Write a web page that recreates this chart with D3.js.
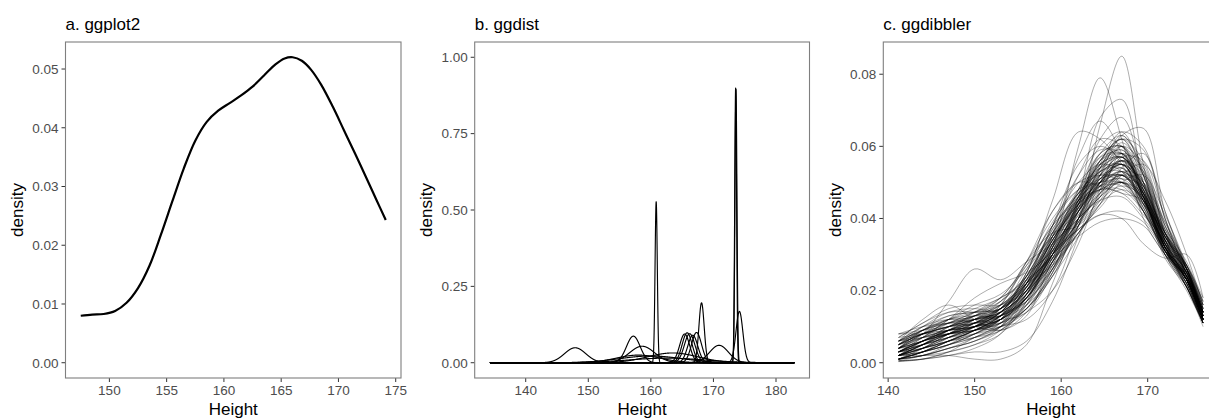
<!DOCTYPE html>
<html><head><meta charset="utf-8">
<script src="https://cdn.jsdelivr.net/npm/d3@7"></script>
<style>
body{margin:0;background:#fff}
svg{display:block}
text{font-family:"Liberation Sans",Arial,Helvetica,sans-serif}
</style>
</head><body>
<svg id="chart" width="1209" height="419"></svg>
<script>
// ---------------- data ----------------
const panelTitles = ["a. ggplot2", "b. ggdist", "c. ggdibbler"];
const xAxisTitle = "Height";
const yAxisTitle = "density";

// a. single kernel density estimate
const heightA  = [147.5,148.5,149.5,150.5,151.5,152.5,153.5,154.5,155.5,156.5,157.5,158.5,159.5,160.5,161.5,162.5,163.5,164.5,165.3,166.0,166.8,167.6,168.5,169.5,170.5,171.5,172.5,173.3,174.13];
const densityA = [.0080,.0082,.0083,.0088,.0102,.0127,.0165,.0218,.0275,.0331,.0378,.0410,.0429,.0442,.0455,.0470,.0489,.0508,.0518,.0520,.0514,.0499,.0473,.0436,.0395,.0354,.0312,.0278,.0243];

// b. one normal distribution per observation (location, spread, drawn peak height)
const distMean = [147.9,157.2,158.6,160.85,173.55,173.6,174.15,168.1,170.9,165.4,165.8,166.2,166.7,167.3,163.5,160.0,158.0,162.5];
const distSd   = [1.7,1.1,2.0,0.18,0.15,0.16,0.55,0.42,1.5,0.8,0.8,0.85,0.8,0.8,4.0,5.0,3.5,6.0];
const distPeak = [0.049,0.087,0.054,0.527,0.899,0.895,0.168,0.196,0.057,0.094,0.098,0.095,0.090,0.099,0.032,0.022,0.025,0.015];
const distRange = [134.28, 182.92];

// c. density estimates of resampled data (values at the grid heights)
const heightGridC = [141.2,144,147,150,153,156,159,162,164.5,167,169.5,172,174.5,176.4];
const densityDrawsC = [
[.002,.003,.005,.007,.010,.015,.024,.040,.066,.085,.055,.032,.022,.012],
[.004,.007,.009,.010,.012,.018,.032,.060,.079,.062,.040,.030,.023,.013],
[.001,.003,.006,.009,.012,.017,.027,.046,.068,.073,.050,.032,.023,.012],
[.003,.005,.008,.010,.013,.019,.030,.045,.062,.068,.052,.034,.024,.013],
[.005,.008,.010,.012,.014,.020,.035,.057,.067,.058,.042,.031,.023,.012],
[.002,.005,.008,.011,.015,.025,.045,.064,.062,.055,.044,.033,.024,.013],
[.001,.002,.004,.006,.009,.015,.025,.038,.052,.063,.065,.042,.026,.014],
[.006,.009,.012,.015,.018,.023,.029,.035,.039,.040,.038,.030,.024,.014],
[.004,.008,.011,.014,.017,.024,.031,.037,.041,.042,.039,.031,.025,.015],
[.003,.006,.009,.012,.016,.022,.030,.037,.041,.040,.033,.029,.030,.018],
[.004,.008,.017,.026,.023,.028,.033,.040,.046,.050,.042,.030,.023,.012],
[.006,.012,.016,.012,.009,.014,.026,.040,.050,.055,.045,.032,.024,.013],
[.002,.002,.002,.001,.001,.005,.022,.040,.052,.057,.047,.032,.023,.012],
[.0005,.001,.002,.003,.003,.006,.017,.035,.050,.058,.050,.034,.023,.012],
[.008,.008,.008,.009,.011,.018,.030,.042,.050,.054,.044,.031,.023,.012],
[.001,.003,.006,.009,.013,.022,.035,.045,.052,.056,.046,.031,.022,.011],
[.003,.006,.009,.011,.014,.024,.036,.046,.053,.055,.045,.031,.023,.013],
[.005,.008,.010,.011,.013,.020,.032,.044,.053,.058,.047,.032,.023,.012],
[.002,.004,.007,.010,.015,.026,.038,.046,.050,.052,.044,.033,.025,.014],
[.004,.007,.011,.014,.018,.028,.040,.048,.050,.050,.043,.032,.024,.014],
[.0005,.002,.004,.006,.010,.018,.030,.043,.054,.060,.050,.033,.023,.012],
[.003,.005,.007,.008,.010,.016,.028,.044,.057,.060,.048,.032,.022,.011],
[.006,.010,.013,.014,.015,.021,.031,.041,.048,.052,.046,.034,.025,.014],
[.002,.004,.007,.010,.014,.023,.035,.044,.048,.050,.047,.036,.026,.015],
[.001,.002,.004,.007,.011,.020,.033,.045,.055,.057,.047,.031,.022,.011],
[.007,.011,.014,.014,.013,.018,.029,.042,.051,.055,.046,.032,.024,.013],
[.003,.006,.010,.013,.016,.023,.034,.045,.052,.053,.043,.030,.022,.012],
[.005,.007,.009,.010,.012,.019,.031,.043,.051,.054,.047,.035,.026,.016],
[.002,.005,.008,.009,.010,.015,.026,.040,.053,.061,.053,.035,.024,.012],
[.004,.009,.012,.012,.011,.015,.025,.039,.050,.056,.049,.035,.025,.013],
[.001,.003,.005,.008,.012,.021,.034,.044,.050,.053,.047,.035,.026,.015],
[.003,.006,.008,.010,.014,.025,.039,.048,.052,.051,.042,.031,.023,.013],
[.006,.009,.011,.013,.016,.022,.030,.039,.047,.052,.048,.036,.026,.014],
[.002,.004,.006,.008,.011,.019,.032,.045,.056,.059,.048,.031,.021,.010],
[.004,.006,.008,.010,.013,.021,.033,.043,.049,.051,.045,.034,.026,.016],
[.001,.003,.007,.011,.015,.022,.032,.042,.050,.055,.049,.036,.025,.013],
[.005,.010,.014,.015,.014,.017,.026,.038,.047,.052,.045,.032,.024,.013],
[.002,.005,.009,.012,.014,.020,.031,.044,.055,.057,.046,.031,.023,.012],
[.003,.004,.006,.008,.012,.023,.037,.047,.051,.052,.045,.033,.024,.013],
[.007,.008,.009,.010,.012,.018,.028,.040,.049,.053,.047,.034,.025,.014],
[.001,.002,.003,.005,.009,.017,.031,.046,.056,.058,.047,.031,.021,.011],
[.004,.008,.011,.013,.015,.021,.030,.040,.047,.050,.046,.036,.027,.016],
[.002,.004,.006,.009,.013,.022,.036,.047,.053,.054,.044,.031,.023,.012],
[.005,.008,.010,.012,.015,.024,.036,.045,.049,.049,.042,.031,.024,.014],
[.003,.005,.007,.009,.011,.017,.028,.042,.054,.062,.052,.034,.023,.011],
[.008,.009,.010,.011,.013,.019,.029,.039,.046,.050,.045,.035,.027,.015],
[.001,.004,.008,.012,.017,.027,.038,.045,.048,.048,.042,.033,.025,.014],
[.004,.007,.009,.010,.011,.016,.027,.042,.055,.059,.049,.033,.023,.012],
[.002,.006,.010,.013,.015,.022,.034,.047,.058,.060,.047,.030,.021,.011],
[.006,.008,.010,.012,.014,.020,.030,.041,.050,.055,.050,.037,.026,.014],
[.003,.007,.012,.016,.019,.026,.035,.043,.048,.050,.045,.035,.026,.015],
[.0005,.001,.003,.005,.008,.017,.033,.048,.057,.058,.046,.030,.021,.011],
[.004,.006,.008,.011,.016,.028,.042,.050,.052,.050,.042,.031,.023,.013],
[.002,.005,.009,.011,.012,.018,.030,.044,.054,.057,.048,.033,.023,.012],
[.005,.009,.012,.014,.016,.021,.029,.038,.045,.049,.046,.037,.028,.016],
[.001,.003,.006,.009,.013,.022,.035,.046,.053,.055,.046,.032,.023,.012],
[.003,.006,.009,.012,.015,.022,.032,.042,.049,.053,.048,.035,.025,.013],
[.006,.007,.008,.009,.012,.021,.034,.044,.050,.052,.046,.034,.025,.014],
[.002,.003,.005,.007,.010,.019,.033,.046,.055,.058,.048,.032,.022,.011],
[.004,.008,.012,.013,.013,.018,.029,.042,.051,.055,.049,.035,.025,.013],
[.002,.004,.006,.009,.013,.020,.032,.048,.060,.064,.052,.034,.023,.012],
[.003,.005,.008,.010,.013,.021,.036,.052,.062,.060,.046,.032,.023,.012],
[.001,.003,.005,.008,.012,.019,.030,.045,.058,.063,.054,.036,.024,.012],
[.004,.006,.008,.010,.012,.018,.029,.044,.056,.062,.056,.038,.025,.013],
[.002,.005,.008,.011,.015,.024,.038,.052,.059,.058,.046,.032,.023,.012],
[.0003,.001,.003,.007,.010,.012,.020,.038,.055,.064,.060,.040,.024,.012],
[.005,.009,.011,.010,.009,.013,.028,.036,.044,.054,.058,.042,.026,.014],
[.003,.007,.012,.018,.022,.025,.031,.040,.045,.046,.040,.032,.026,.017],
[.002,.003,.005,.008,.013,.025,.042,.050,.049,.047,.045,.036,.026,.014],
[.006,.010,.012,.011,.010,.014,.020,.033,.048,.060,.055,.036,.023,.012],
[.001,.003,.006,.010,.016,.028,.036,.038,.046,.058,.054,.036,.024,.013],
[.004,.005,.007,.010,.015,.023,.038,.055,.060,.056,.045,.033,.023,.012],
[.002,.006,.009,.011,.014,.019,.027,.036,.044,.052,.055,.045,.030,.016],
[.007,.011,.015,.016,.016,.020,.028,.040,.051,.056,.046,.030,.020,.011],
[.003,.004,.006,.007,.009,.016,.032,.047,.050,.051,.049,.039,.027,.015],
[.001,.002,.005,.009,.012,.016,.024,.035,.047,.057,.056,.040,.026,.013],
[.005,.008,.009,.010,.014,.023,.033,.040,.046,.053,.051,.038,.026,.014],
[.002,.005,.010,.013,.012,.014,.025,.044,.058,.060,.045,.029,.021,.012],
[.004,.006,.009,.013,.018,.027,.035,.042,.052,.060,.052,.033,.021,.011],
[.0005,.001,.002,.004,.008,.019,.035,.048,.054,.055,.047,.034,.024,.013],
[.006,.008,.010,.013,.017,.024,.034,.044,.048,.047,.041,.034,.027,.018],
[.003,.006,.008,.009,.012,.020,.030,.037,.043,.050,.052,.041,.027,.014],
[.001,.004,.008,.011,.013,.018,.028,.043,.056,.062,.050,.032,.021,.012],
[.005,.007,.008,.010,.014,.022,.030,.039,.048,.056,.053,.037,.024,.012],
[.002,.004,.008,.012,.015,.020,.028,.038,.049,.056,.050,.036,.025,.014],
[.004,.009,.013,.014,.015,.021,.033,.045,.051,.052,.045,.033,.023,.013],
[.008,.010,.011,.012,.014,.020,.031,.043,.052,.057,.048,.032,.021,.011],
[.001,.002,.004,.006,.010,.022,.038,.050,.055,.053,.043,.032,.024,.014],
[.003,.005,.007,.009,.011,.015,.024,.038,.050,.056,.052,.039,.026,.014],
[.002,.005,.009,.014,.018,.022,.027,.036,.045,.052,.050,.038,.026,.015],
[.005,.008,.010,.012,.013,.017,.026,.040,.054,.063,.053,.034,.022,.012],
[.003,.006,.009,.011,.014,.022,.034,.046,.056,.062,.059,.040,.024,.012],
[.001,.003,.006,.009,.012,.019,.030,.042,.049,.050,.044,.036,.027,.017],
[.006,.009,.011,.012,.013,.018,.026,.036,.044,.048,.044,.035,.027,.017],
[.002,.004,.007,.010,.014,.024,.037,.047,.054,.057,.049,.033,.021,.011]
];

// tick values
const xTicksA = [150,155,160,165,170,175];
const yTicksA = [0,0.01,0.02,0.03,0.04,0.05];
const xTicksB = [140,150,160,170,180];
const yTicksB = [0,0.25,0.5,0.75,1];
const yLimitsB = [0,1];
const xTicksC = [140,150,160,170];
const yTicksC = [0,0.02,0.04,0.06,0.08];

// ---------------- layout ----------------
const svg = d3.select("#chart");
const panels = [
  {left:65.5,  right:401,    top:42, bottom:378},
  {left:474.7, right:809.5,  top:42, bottom:378},
  {left:883.3, right:1218.3, top:42, bottom:378}
];
function expand(ext){ const d=(ext[1]-ext[0])*0.05; return [ext[0]-d, ext[1]+d]; }

function drawFrame(i, x, y, xTicks, yTicks, yFmt){
  const p = panels[i];
  const g = svg.append("g");
  yTicks.forEach(t=>{
    g.append("line").attr("x1",p.left-4).attr("x2",p.left).attr("y1",y(t)).attr("y2",y(t))
      .attr("stroke","#333").attr("stroke-width",1);
    g.append("text").attr("x",p.left-7).attr("y",y(t)+4.8).attr("text-anchor","end")
      .attr("font-size",13.5).attr("fill","#4d4d4d").text(yFmt(t));
  });
  xTicks.forEach(t=>{
    g.append("line").attr("x1",x(t)).attr("x2",x(t)).attr("y1",p.bottom).attr("y2",p.bottom+4)
      .attr("stroke","#333").attr("stroke-width",1);
    g.append("text").attr("x",x(t)).attr("y",p.bottom+17).attr("text-anchor","middle")
      .attr("font-size",13.5).attr("fill","#4d4d4d").text(d3.format("d")(t));
  });
  g.append("text").attr("x",(p.left+p.right)/2).attr("y",415).attr("text-anchor","middle")
    .attr("font-size",17).attr("fill","#000").text(xAxisTitle);
  g.append("text").attr("transform",`translate(${p.left-42.5},${(p.top+p.bottom)/2}) rotate(-90)`)
    .attr("text-anchor","middle").attr("font-size",17).attr("fill","#000").text(yAxisTitle);
  g.append("text").attr("x",p.left).attr("y",29.5).attr("font-size",17).attr("fill","#000").text(panelTitles[i]);
}
function drawBorder(i){
  const p = panels[i];
  svg.append("rect").attr("x",p.left).attr("y",p.top).attr("width",p.right-p.left).attr("height",p.bottom-p.top)
    .attr("fill","none").attr("stroke","#7f7f7f").attr("stroke-width",1.1);
}
function clipFor(i){
  const p = panels[i];
  const id = "clip"+i;
  svg.append("clipPath").attr("id",id).append("rect")
    .attr("x",p.left).attr("y",p.top).attr("width",p.right-p.left).attr("height",p.bottom-p.top);
  return svg.append("g").attr("clip-path",`url(#${id})`);
}
const fmt2 = d3.format(".2f");

// ---------------- panel a ----------------
{
  const p = panels[0];
  const x = d3.scaleLinear().domain(expand(d3.extent(heightA))).range([p.left,p.right]);
  const y = d3.scaleLinear().domain(expand([0, d3.max(densityA)])).range([p.bottom,p.top]);
  drawFrame(0, x, y, xTicksA, yTicksA, fmt2);
  const g = clipFor(0);
  const line = d3.line().x((d,i)=>x(heightA[i])).y(d=>y(d)).curve(d3.curveCatmullRom.alpha(0.5));
  g.append("path").datum(densityA).attr("d",line).attr("fill","none").attr("stroke","#000")
    .attr("stroke-width",2.2).attr("stroke-linejoin","round");
  drawBorder(0);
}

// ---------------- panel b ----------------
{
  const p = panels[1];
  const x = d3.scaleLinear().domain(expand(distRange)).range([p.left,p.right]);
  const y = d3.scaleLinear().domain(expand(yLimitsB)).range([p.bottom,p.top]);
  drawFrame(1, x, y, xTicksB, yTicksB, fmt2);
  const g = clipFor(1);
  const xs = d3.range(distRange[0], distRange[1]+1e-9, 0.01);
  const line = d3.line().x(d=>x(d[0])).y(d=>y(d[1]));
  distMean.forEach((m,k)=>{
    const pts = xs.map(h=>[h, distPeak[k]*Math.exp(-0.5*((h-m)/distSd[k])**2)]);
    g.append("path").datum(pts).attr("d",line).attr("fill","none").attr("stroke","#000")
      .attr("stroke-width",1.15).attr("stroke-linejoin","round");
  });
  drawBorder(1);
}

// ---------------- panel c ----------------
{
  const p = panels[2];
  const x = d3.scaleLinear().domain(expand(d3.extent(heightGridC))).range([p.left,p.right]);
  const y = d3.scaleLinear().domain(expand([0, 0.0847])).range([p.bottom,p.top]);
  drawFrame(2, x, y, xTicksC, yTicksC, fmt2);
  const g = clipFor(2);
  const line = d3.line().x((d,i)=>x(heightGridC[i])).y(d=>y(d)).curve(d3.curveCatmullRom.alpha(0.5));
  densityDrawsC.forEach(row=>{
    g.append("path").datum(row).attr("d",line).attr("fill","none").attr("stroke","#000")
      .attr("stroke-opacity",0.5).attr("stroke-width",0.65);
  });
  drawBorder(2);
}
</script>
</body></html>
